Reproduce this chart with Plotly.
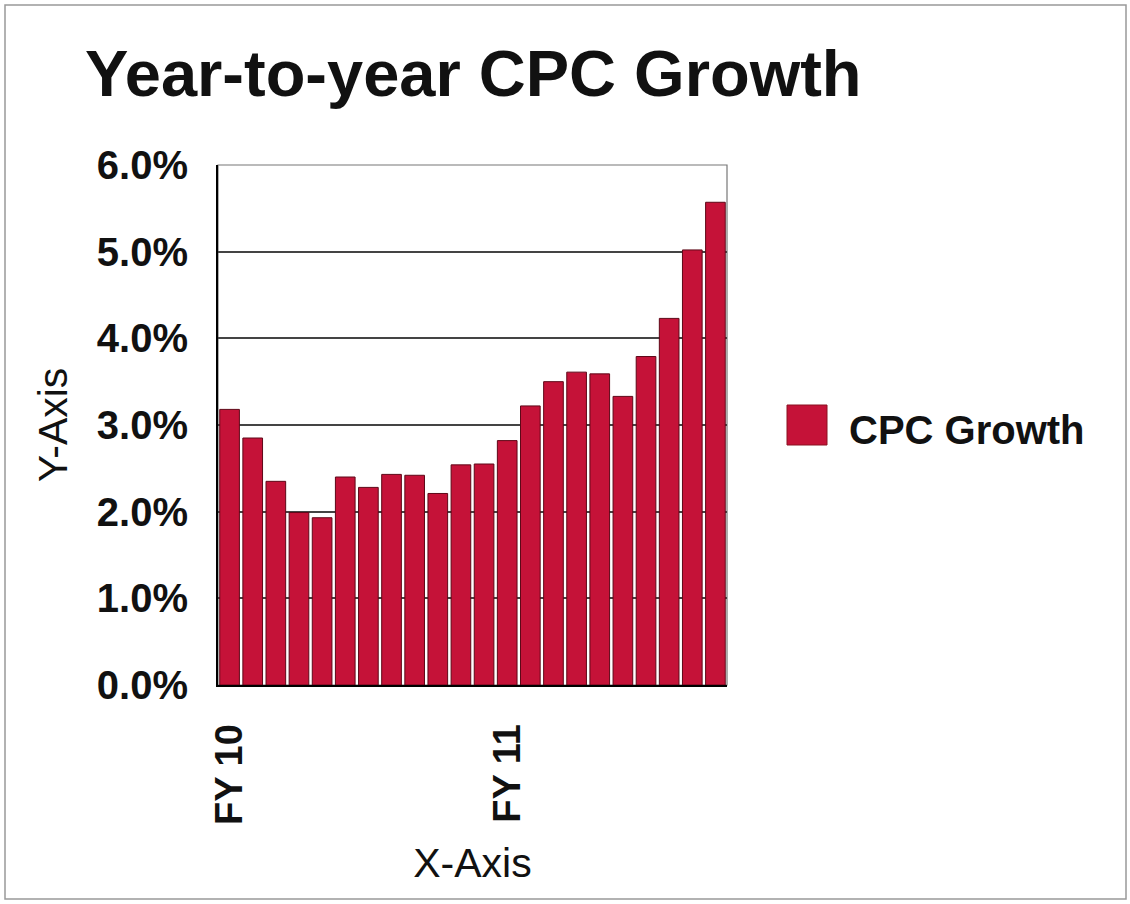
import plotly.graph_objects as go

# Data
period_index = list(range(22))
cpc_growth = [3.18, 2.85, 2.35, 1.99, 1.93, 2.40, 2.28, 2.43, 2.42, 2.21, 2.54,
              2.55, 2.82, 3.22, 3.50, 3.61, 3.59, 3.33, 3.79, 4.23, 5.02, 5.57]
tick_positions = [0, 12]
tick_labels = ["FY 10", "FY 11"]
y_ticks = [0, 1, 2, 3, 4, 5, 6]
y_tick_labels = ["0.0%", "1.0%", "2.0%", "3.0%", "4.0%", "5.0%", "6.0%"]
series_name = "CPC Growth"

W, H = 1130, 904
L, R, T, B = 218, 727, 165, 685


def px_x(p):
    return (p - L) / (R - L)


def px_y(p):
    return (B - p) / (B - T)


FONT = "Liberation Sans, Arial, sans-serif"
BAR = "#C51238"

fig = go.Figure()
fig.add_trace(go.Bar(
    x=period_index, y=cpc_growth, name=series_name,
    marker=dict(color=BAR, line=dict(color="#5e0818", width=1)),
    showlegend=False,
))

fig.update_layout(
    width=W, height=H,
    margin=dict(l=L, r=W - R, t=T, b=H - B, pad=0),
    paper_bgcolor="white", plot_bgcolor="white",
    bargap=0.15,
    font=dict(family=FONT, color="#111111"),
    title=dict(text="<b>Year-to-year CPC Growth</b>", x=85 / W, xanchor="left",
               y=1 - 73 / H, yanchor="middle",
               font=dict(size=65, family=FONT, color="#111111")),
    xaxis=dict(
        range=[-0.5, 21.5], tickmode="array", tickvals=tick_positions,
        ticktext=[f"<b>{t}</b>" for t in tick_labels], tickangle=-90,
        tickfont=dict(size=38, family=FONT, color="#111111"),
        ticks="", ticklabelstandoff=22,
        showline=True, linecolor="black", linewidth=2, showgrid=False,
        zeroline=False,
        title=dict(text="X-Axis", font=dict(size=41, family=FONT, color="#111111"),
                   standoff=24),
    ),
    yaxis=dict(
        range=[0, 6], tickmode="array", tickvals=y_ticks,
        ticktext=[f"<b>{t}</b>" for t in y_tick_labels],
        tickfont=dict(size=40, family=FONT, color="#111111"),
        ticks="", ticklabelstandoff=20,
        showline=True, linecolor="black", linewidth=2,
        showgrid=True, gridcolor="#444444", gridwidth=1.5, zeroline=False,
        title=dict(text="Y-Axis", font=dict(size=41, family=FONT, color="#111111"),
                   standoff=16),
    ),
    shapes=[
        dict(type="rect", xref="paper", yref="paper", x0=0, x1=1, y0=0, y1=1,
             line=dict(color="#777777", width=1.2), layer="below"),
        dict(type="rect", xref="paper", yref="paper",
             x0=px_x(787), x1=px_x(827), y0=px_y(445), y1=px_y(405),
             fillcolor=BAR, line=dict(color="#8a1020", width=1)),
        dict(type="rect", xref="paper", yref="paper",
             x0=px_x(5), x1=px_x(1126), y0=px_y(899), y1=px_y(5),
             line=dict(color="#999999", width=1.5)),
    ],
    annotations=[
        dict(text=f"<b>{series_name}</b>", xref="paper", yref="paper",
             x=px_x(847), y=px_y(430), xanchor="left", yanchor="middle",
             showarrow=False, font=dict(size=40, family=FONT, color="#111111")),
    ],
)

fig.write_html("out.html")
